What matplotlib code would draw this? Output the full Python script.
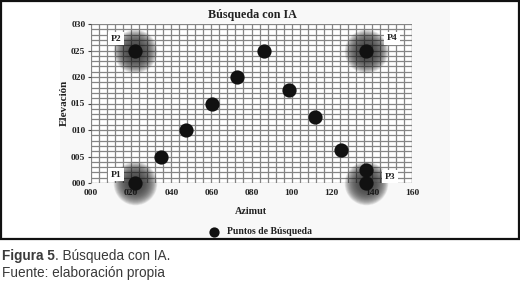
import numpy as np
import matplotlib
matplotlib.use("Agg")
import matplotlib.pyplot as plt
from matplotlib.patches import Rectangle
from matplotlib.ticker import MultipleLocator, FuncFormatter

# data
azimut = [22, 22, 35, 47.5, 60.5, 73, 86, 98.5, 111.5, 124.5, 137, 137, 137]
elevacion = [0, 25, 5, 10, 15, 20, 25, 17.5, 12.5, 6.3, 2.5, 0, 25]

# corner points with a blur halo and their labels
corner_x = [22, 22, 137, 137]
corner_y = [0, 25, 0, 25]
corner_labels = ["P1", "P2", "P3", "P4"]
label_x = [12.5, 12.5, 149, 150]
label_y = [1.6, 27.2, 1.2, 27.3]

serif = ["Liberation Serif", "DejaVu Serif"]
sans = ["Liberation Sans", "DejaVu Sans"]

fig = plt.figure(figsize=(5.2, 2.83), dpi=100)
W, H = 520, 283

# outer frame + light chart area
fig.patches.append(Rectangle((60 / W, 1 - 238 / H), 390 / W, 237 / H,
                             transform=fig.transFigure, facecolor="#f8f8f8",
                             edgecolor="none", zorder=-5))
fig.patches.append(Rectangle((1 / W, 1 - 239 / H), 518 / W, 238 / H,
                             transform=fig.transFigure, facecolor="none",
                             edgecolor="#111111", lw=1.6, zorder=5))

ax = fig.add_axes([91 / W, 1 - 183 / H, 321 / W, 159 / H])
ax.set_zorder(1)
ax.set_facecolor("white")
ax.set_xlim(0, 160)
ax.set_ylim(0, 30)

# dense grid
ax.xaxis.set_major_locator(MultipleLocator(20))
ax.xaxis.set_minor_locator(MultipleLocator(4))
ax.yaxis.set_major_locator(MultipleLocator(5))
ax.yaxis.set_minor_locator(MultipleLocator(1))
ax.grid(which="both", color="#858585", lw=0.9)
ax.set_axisbelow(True)
ax.tick_params(which="minor", length=0)
ax.tick_params(axis="x", which="major", length=0, pad=4)
ax.tick_params(axis="y", which="major", length=2.5, width=0.8,
               color="#444444", pad=1.5)
fmt = FuncFormatter(lambda v, p: "%03d" % v)
ax.xaxis.set_major_formatter(fmt)
ax.yaxis.set_major_formatter(fmt)
for lab in ax.get_xticklabels() + ax.get_yticklabels():
    lab.set_family(serif)
    lab.set_fontsize(6.8)
    lab.set_fontweight("bold")
    lab.set_color("#222222")
for s in ax.spines.values():
    s.set_visible(False)
ax.axhline(0, color="#555555", lw=0.8, ls=(0, (2, 1)), zorder=1)
ax.axvline(160, color="#555555", lw=0.8, zorder=1)

# blurred halos (stacked translucent discs)
for size in np.linspace(1000, 100, 30):
    ax.scatter(corner_x, corner_y, s=size, color="#1a1a1a", alpha=0.045,
               lw=0, zorder=2, clip_on=False)

pts = ax.scatter(azimut, elevacion, s=105, color="#111111", lw=0, zorder=4,
                 clip_on=False, label="Puntos de Búsqueda")

for tx, ty, t in zip(label_x, label_y, corner_labels):
    ax.text(tx, ty, t, family=serif, fontsize=6.8, fontweight="bold",
            ha="center", va="center", color="#222222", zorder=5,
            bbox=dict(boxstyle="square,pad=0.25", fc="white", ec="none"))

fig.text(252 / W, 1 - 15 / H, "Búsqueda con IA", family=serif, fontsize=8.7,
         fontweight="bold", ha="center", va="center", color="#222222")
fig.text(64 / W, 1 - 103 / H, "Elevación", family=serif, fontsize=8,
         fontweight="bold", rotation=90, ha="center", va="center",
         color="#222222")
fig.text(251 / W, 1 - 212 / H, "Azimut", family=serif, fontsize=7.3,
         fontweight="bold", ha="center", va="center", color="#222222")

fig.legend(handles=[pts], loc="center", bbox_to_anchor=(258 / W, 1 - 232 / H),
           frameon=False, handletextpad=0.4, markerscale=0.72,
           prop=dict(family=serif, size=7, weight="bold"),
           labelcolor="#222222")

# caption below the frame
fig.canvas.draw()
r = fig.canvas.get_renderer()
t1 = fig.text(2 / W, 1 - 256 / H, "Figura 5", family=sans, fontsize=9.8,
              fontweight="bold", ha="left", va="center", color="#3a3a3a")
bb = t1.get_window_extent(renderer=r)
fig.text(bb.x1 / W, 1 - 256 / H, ". Búsqueda con IA.", family=sans,
         fontsize=9.8, ha="left", va="center", color="#3a3a3a")
fig.text(2 / W, 1 - 273 / H, "Fuente: elaboración propia", family=sans,
         fontsize=9.8, ha="left", va="center", color="#3a3a3a")

fig.savefig("out.png", dpi=100, facecolor="white")
